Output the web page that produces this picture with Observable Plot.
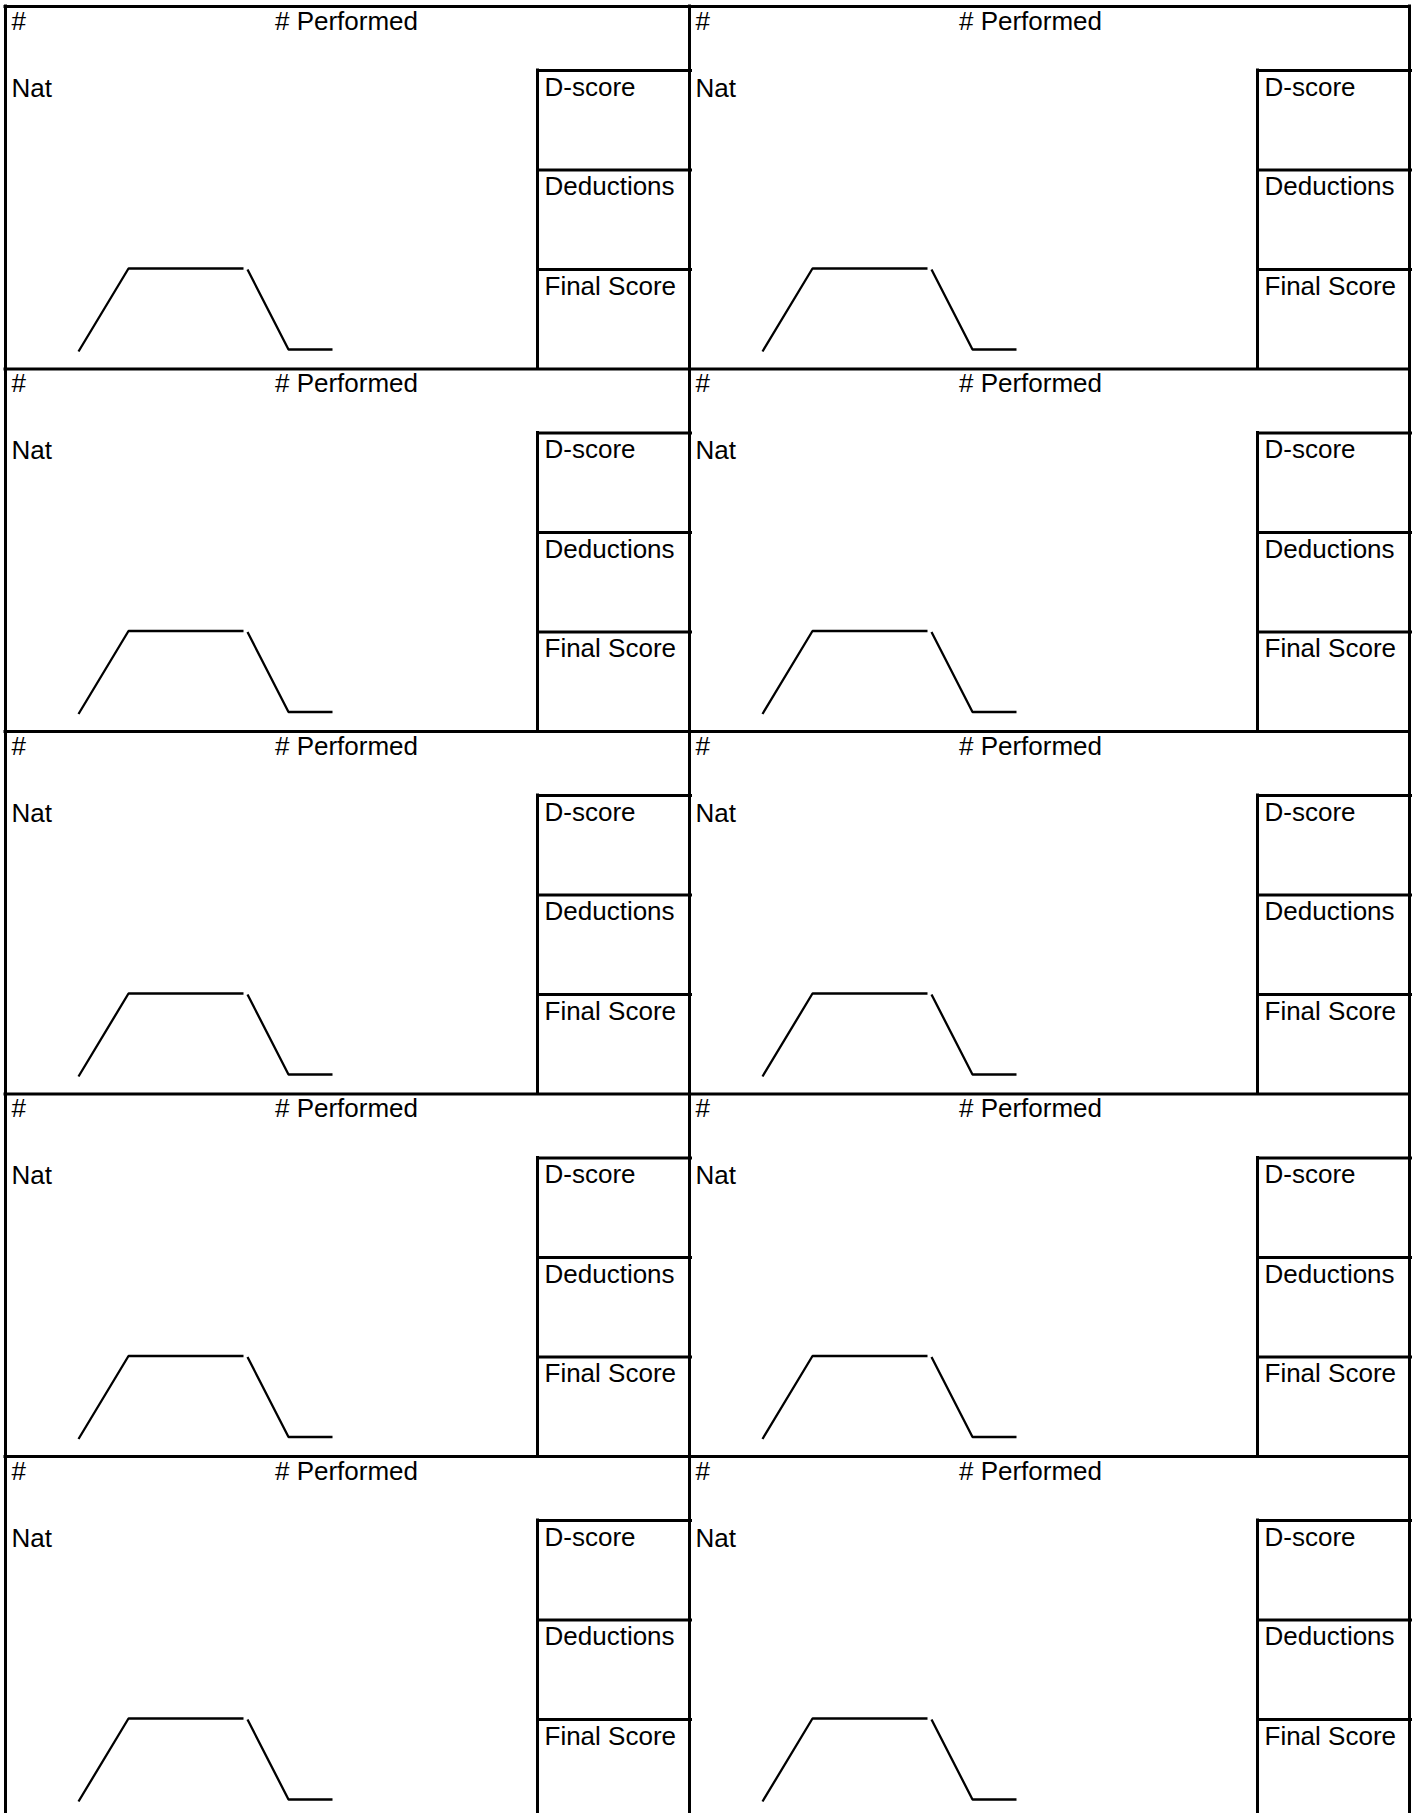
<!DOCTYPE html>
<html><head><meta charset="utf-8">
<script src="https://cdn.jsdelivr.net/npm/d3@7"></script>
<script src="https://cdn.jsdelivr.net/npm/@observablehq/plot@0.6"></script>
<style>html,body{margin:0;padding:0;background:#fff}</style>
</head><body><div id="chart"></div>
<script>
// ---- data ----
const columns = ["left", "right"];
const rows = [1, 2, 3, 4, 5];
const headerLabels = ["#", "# Performed", "Nat"];
const scoreLabels = ["D-score", "Deductions", "Final Score"];
// routine profile sketch (step along, level up)
const profileStep = [0, 50, 165, 169, 210, 254];
const profileLevel = [0, 83, 83, 82, 2, 2];
const profileSegment = ["rise", "rise", "rise", "fall", "fall", "fall"];

// ---- layout ----
const W = 1418, H = 1813;
const colEdges = [5, 689, 1409];
const top0 = 6, rowH = 362.5;
const boxW = 152, boxTop = 64;
const boxRowH = (rowH - boxTop) / 3;
const headerPos = [
  {dx: 6, dy: 23, anchor: "start"},
  {dx: 341, dy: 23, anchor: "middle"},
  {dx: 6, dy: 90, anchor: "start"}
];

const cells = [];
columns.forEach((c, ci) => rows.forEach((r, ri) => cells.push({
  col: c, row: r, x0: colEdges[ci], x1: colEdges[ci + 1], y0: top0 + ri * rowH
})));

const vFrame = colEdges.map(x => ({x, y1: top0 - 1.5, y2: H + 10}));
const hFrame = rows.map((r, i) => ({y: top0 + i * rowH, x1: colEdges[0] - 1.5, x2: colEdges[2] + 1.5}));
const boxV = cells.map(c => ({x: c.x1 - boxW, y1: c.y0 + boxTop - 1.5, y2: c.y0 + rowH}));
const boxH = cells.flatMap(c => [0, 1, 2].map(k => ({y: c.y0 + boxTop + k * boxRowH, x1: c.x1 - boxW, x2: c.x1 + 3})));
const headerText = cells.flatMap(c => headerLabels.map((t, i) => ({
  text: t, x: c.x0 + headerPos[i].dx, y: c.y0 + headerPos[i].dy, anchor: headerPos[i].anchor
})));
const scoreText = cells.flatMap(c => scoreLabels.map((t, k) => ({
  text: t, x: c.x1 - boxW + 7, y: c.y0 + boxTop + k * boxRowH + 25
})));
const profile = cells.flatMap(c => profileStep.map((s, i) => ({
  x: c.x0 + 73 + s, y: c.y0 + 345 - profileLevel[i], z: c.col + c.row + profileSegment[i]
})));

const chart = Plot.plot({
  width: W, height: H, margin: 0,
  x: {domain: [0, W], range: [0, W], axis: null},
  y: {domain: [0, H], range: [0, H], axis: null},
  style: {fontFamily: "'Liberation Sans', Arial, sans-serif", background: "#fff"},
  marks: [
    Plot.ruleX(vFrame, {x: "x", y1: "y1", y2: "y2", stroke: "#000", strokeWidth: 3}),
    Plot.ruleY(hFrame, {y: "y", x1: "x1", x2: "x2", stroke: "#000", strokeWidth: 3}),
    Plot.ruleX(boxV, {x: "x", y1: "y1", y2: "y2", stroke: "#000", strokeWidth: 3}),
    Plot.ruleY(boxH, {y: "y", x1: "x1", x2: "x2", stroke: "#000", strokeWidth: 3}),
    Plot.line(profile, {x: "x", y: "y", z: "z", stroke: "#000", strokeWidth: 2.3, strokeLinecap: "butt", strokeLinejoin: "miter"}),
    Plot.text(headerText.filter(d => d.anchor === "start"), {x: "x", y: "y", text: "text", textAnchor: "start", lineAnchor: "bottom", fontSize: 26, fill: "#000"}),
    Plot.text(headerText.filter(d => d.anchor === "middle"), {x: "x", y: "y", text: "text", textAnchor: "middle", lineAnchor: "bottom", fontSize: 26, fill: "#000"}),
    Plot.text(scoreText, {x: "x", y: "y", text: "text", textAnchor: "start", lineAnchor: "bottom", fontSize: 26, fill: "#000"})
  ]
});
document.getElementById("chart").append(chart);
</script>
</body></html>
